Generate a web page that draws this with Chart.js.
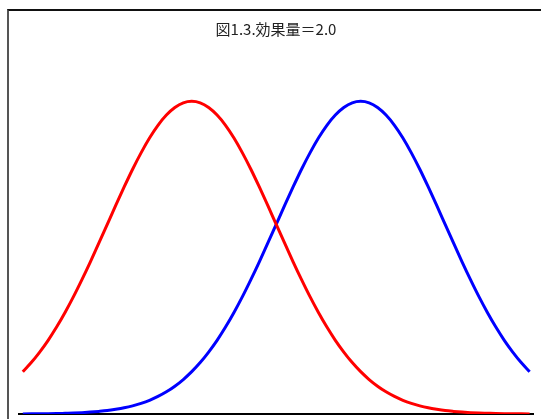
<!DOCTYPE html>
<html>
<head>
<meta charset="utf-8">
<script src="https://cdn.jsdelivr.net/npm/chart.js@4"></script>
<style>
  body { margin: 0; background: #fff; overflow: hidden; }
  #frame {
    position: absolute; left: 7px; top: 9px; width: 600px; height: 500px;
    border-left: 2px solid #555; border-top: 2px solid #111;
    box-sizing: border-box;
  }
  #wrap { position: absolute; left: 0; top: 0; width: 541px; height: 422px; }
</style>
</head>
<body>
<div id="frame"></div>
<div id="wrap"><canvas id="my-chart"></canvas></div>
<script>
const titleText = '図1.3.効果量＝2.0';
// x positions (effect size units), -3 .. 3
const xValues = [-3.0, -2.9, -2.8, -2.7, -2.6, -2.5, -2.4, -2.3, -2.2, -2.1,
    -2.0, -1.9, -1.8, -1.7, -1.6, -1.5, -1.4, -1.3, -1.2, -1.1,
    -1.0, -0.9, -0.8, -0.7, -0.6, -0.5, -0.4, -0.3, -0.2, -0.1,
    0.0, 0.1, 0.2, 0.3, 0.4, 0.5, 0.6, 0.7, 0.8, 0.9,
    1.0, 1.1, 1.2, 1.3, 1.4, 1.5, 1.6, 1.7, 1.8, 1.9,
    2.0, 2.1, 2.2, 2.3, 2.4, 2.5, 2.6, 2.7, 2.8, 2.9, 3.0];
// red group density (peak near -1)
const redValues = [0.0540, 0.0656, 0.0790, 0.0940, 0.1109, 0.1295, 0.1497, 0.1714, 0.1942, 0.2179,
    0.2420, 0.2661, 0.2897, 0.3123, 0.3332, 0.3521, 0.3683, 0.3814, 0.3910, 0.3970,
    0.3989, 0.3970, 0.3910, 0.3814, 0.3683, 0.3521, 0.3332, 0.3123, 0.2897, 0.2661,
    0.2420, 0.2179, 0.1942, 0.1714, 0.1497, 0.1295, 0.1109, 0.0940, 0.0790, 0.0656,
    0.0540, 0.0440, 0.0355, 0.0283, 0.0224, 0.0175, 0.0136, 0.0104, 0.0079, 0.0060,
    0.0044, 0.0033, 0.0024, 0.0017, 0.0012, 0.0009, 0.0006, 0.0004, 0.0003, 0.0002, 0.0001];
// blue group density (peak near +1)
const blueValues = [0.0001, 0.0002, 0.0003, 0.0004, 0.0006, 0.0009, 0.0012, 0.0017, 0.0024, 0.0033,
    0.0044, 0.0060, 0.0079, 0.0104, 0.0136, 0.0175, 0.0224, 0.0283, 0.0355, 0.0440,
    0.0540, 0.0656, 0.0790, 0.0940, 0.1109, 0.1295, 0.1497, 0.1714, 0.1942, 0.2179,
    0.2420, 0.2661, 0.2897, 0.3123, 0.3332, 0.3521, 0.3683, 0.3814, 0.3910, 0.3970,
    0.3989, 0.3970, 0.3910, 0.3814, 0.3683, 0.3521, 0.3332, 0.3123, 0.2897, 0.2661,
    0.2420, 0.2179, 0.1942, 0.1714, 0.1497, 0.1295, 0.1109, 0.0940, 0.0790, 0.0656, 0.0540];

const toPoints = ys => xValues.map((x, i) => ({ x: x, y: ys[i] }));

const ctx = document.getElementById('my-chart').getContext('2d');
new Chart(ctx, {
    type: 'line',
    data: {
        datasets: [{
            label: 'red',
            data: toPoints(redValues),
            borderColor: '#ff0000',
            borderWidth: 3,
            pointRadius: 0,
            cubicInterpolationMode: 'monotone',
            fill: false
        }, {
            label: 'blue',
            data: toPoints(blueValues),
            borderColor: '#0000ff',
            borderWidth: 3,
            pointRadius: 0,
            cubicInterpolationMode: 'monotone',
            fill: false
        }]
    },
    options: {
        responsive: true,
        maintainAspectRatio: false,
        animation: false,
        layout: { padding: { left: 19, right: 8, top: 10, bottom: 0 } },
        plugins: {
            legend: { display: false },
            tooltip: { enabled: false },
            title: {
                display: true,
                text: titleText,
                color: '#222',
                font: { family: 'Noto Sans CJK JP', size: 15, weight: 'normal' },
                padding: { top: 10, bottom: 10 }
            }
        },
        scales: {
            x: {
                type: 'linear',
                min: -3.045,
                max: 3.04,
                grid: { display: false },
                ticks: { display: false, padding: 0 },
                border: { display: true, color: '#000', width: 2 }
            },
            y: {
                display: false,
                min: 0,
                max: 0.467
            }
        }
    }
});
</script>
</body>
</html>
